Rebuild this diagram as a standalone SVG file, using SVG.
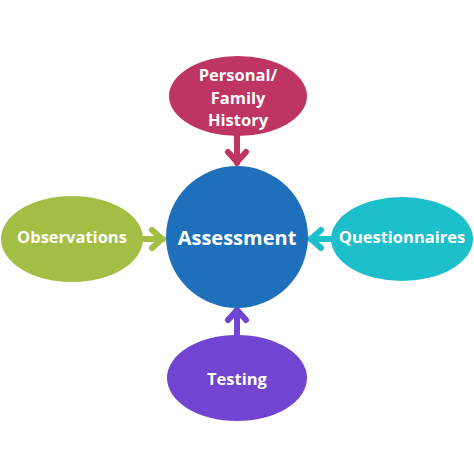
<svg xmlns="http://www.w3.org/2000/svg" width="474" height="474" viewBox="0 0 474 474">
<style>
text{font-family:"Open Sans","Liberation Sans",sans-serif;font-weight:bold;fill:#fff;text-anchor:middle;dominant-baseline:central}
.lbl{font-size:16.5px}
.arr{fill:none;stroke-width:6;stroke-linecap:round;stroke-linejoin:round}
</style>
<rect width="474" height="474" fill="#fff"/>
<g id="connectors">
<g stroke="#BE3462" class="arr"><path d="M237 136V163"/><path d="M228 152L237 162L246 152"/></g>
<g stroke="#A3BE45" class="arr"><path d="M142 239H163"/><path d="M152 230L162 239L152 248"/></g>
<g stroke="#1CBFCA" class="arr"><path d="M331 239H310"/><path d="M321 230L311 239L321 248"/></g>
<g stroke="#7144D2" class="arr"><path d="M237 336V310"/><path d="M228 320L237 310L246 320"/></g>
</g>
<g id="assessment"><circle cx="237" cy="237" r="71" fill="#1F70BB"/><text x="237" y="237" font-size="20">Assessment</text></g>
<g id="personal"><ellipse cx="238" cy="96" rx="69" ry="40" fill="#BE3462"/><text class="lbl" x="238" y="74">Personal/</text><text class="lbl" x="238" y="97">Family</text><text class="lbl" x="238" y="119">History</text></g>
<g id="observations"><ellipse cx="72" cy="239" rx="71" ry="43" fill="#A3BE45"/><text class="lbl" x="72" y="236">Observations</text></g>
<g id="questionnaires"><ellipse cx="402" cy="239" rx="71" ry="42" fill="#1CBFCA"/><text class="lbl" x="402" y="236">Questionnaires</text></g>
<g id="testing"><ellipse cx="237" cy="378" rx="70" ry="43" fill="#7144D2"/><text class="lbl" x="237" y="378">Testing</text></g>
</svg>
